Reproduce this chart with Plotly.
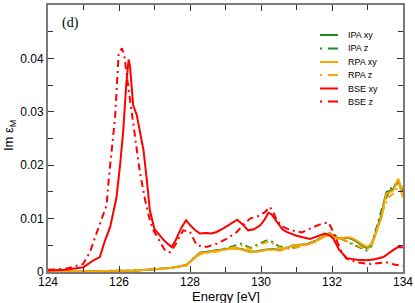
import plotly.graph_objects as go

# ---- data ----
bse_xy_e = [124.0, 124.5, 125.0, 125.28, 125.46, 125.6, 125.75, 125.93, 126.03, 126.12, 126.2, 126.27,
            126.31, 126.35, 126.4, 126.5, 126.59, 126.69, 126.78, 126.87, 127.0, 127.15, 127.3, 127.48,
            127.6, 127.75, 127.89, 128.0, 128.15, 128.28, 128.45, 128.6, 128.75, 128.95, 129.13, 129.33,
            129.5, 129.64, 129.8, 129.97, 130.1, 130.21, 130.3, 130.44, 130.6, 130.72, 131.0, 131.38,
            131.6, 131.8, 131.95, 132.04, 132.2, 132.41, 132.7, 132.98, 133.2, 133.45, 133.7, 133.87, 134.0]
bse_xy_v = [0.0003, 0.0004, 0.0009, 0.0022, 0.0028, 0.0058, 0.0084, 0.0140, 0.0200, 0.0265, 0.0347, 0.0398,
            0.0385, 0.0345, 0.0312, 0.0294, 0.0265, 0.0228, 0.0175, 0.0115, 0.0080, 0.0068, 0.0057, 0.0047,
            0.0060, 0.0082, 0.0097, 0.0088, 0.0078, 0.0072, 0.0073, 0.0072, 0.0075, 0.0082, 0.0090, 0.0098,
            0.0088, 0.0078, 0.0080, 0.0087, 0.0098, 0.0111, 0.0108, 0.0095, 0.0080, 0.0075, 0.0068, 0.0062,
            0.0067, 0.0072, 0.0068, 0.0062, 0.0042, 0.0026, 0.0023, 0.0022, 0.0024, 0.0028, 0.0040, 0.0047, 0.0046]

bse_z_e = [124.0, 124.5, 124.99, 125.18, 125.38, 125.52, 125.65, 125.72, 125.79, 125.89, 125.94, 125.99,
           126.08, 126.15, 126.26, 126.36, 126.45, 126.59, 126.75, 126.87, 126.97, 127.1, 127.2, 127.3,
           127.44, 127.58, 127.7, 127.81, 128.0, 128.19, 128.47, 128.75, 129.03, 129.32, 129.5, 129.69,
           129.9, 130.11, 130.25, 130.35, 130.44, 130.6, 130.86, 131.15, 131.47, 131.7, 131.9, 132.0,
           132.13, 132.25, 132.41, 132.7, 133.07, 133.54, 133.75, 133.92, 134.0]
bse_z_v = [0.0004, 0.0006, 0.0015, 0.0037, 0.0075, 0.0100, 0.0125, 0.0180, 0.0225, 0.0290, 0.0350, 0.0408,
           0.0419, 0.0405, 0.0347, 0.0297, 0.0247, 0.0186, 0.0130, 0.0097, 0.0078, 0.0062, 0.0050, 0.0040,
           0.0037, 0.0050, 0.0065, 0.0078, 0.0075, 0.0050, 0.0047, 0.0053, 0.0062, 0.0075, 0.0088, 0.0100,
           0.0104, 0.0112, 0.0122, 0.0112, 0.0097, 0.0085, 0.0078, 0.0074, 0.0084, 0.0090, 0.0093, 0.0080,
           0.0059, 0.0040, 0.0025, 0.0018, 0.0015, 0.0018, 0.0014, 0.0012, 0.0011]

xy_e = [124.0, 125.0, 126.0, 126.5, 127.0, 127.5, 127.9, 128.1, 128.28, 128.5, 128.75, 129.0, 129.22,
        129.45, 129.69, 129.9, 130.16, 130.35, 130.54, 130.75, 130.91, 131.1, 131.29, 131.5, 131.66,
        131.85, 131.94, 132.05, 132.13, 132.25, 132.41, 132.55, 132.7, 132.85, 132.98, 133.1, 133.2,
        133.3, 133.4, 133.47, 133.54, 133.65, 133.73, 133.8, 133.87, 133.93, 134.0]
rpa_xy_v = [0.0000, 0.0001, 0.0002, 0.0003, 0.0005, 0.0008, 0.0013, 0.0025, 0.0035, 0.0037, 0.0040, 0.0042,
            0.0044, 0.0042, 0.0037, 0.0038, 0.0041, 0.0042, 0.0040, 0.0045, 0.0050, 0.0050, 0.0051, 0.0056,
            0.0062, 0.0070, 0.0072, 0.0066, 0.0062, 0.0063, 0.0065, 0.0064, 0.0059, 0.0052, 0.0047, 0.0052,
            0.0065, 0.0085, 0.0103, 0.0130, 0.0147, 0.0150, 0.0153, 0.0165, 0.0175, 0.0155, 0.0140]
ipa_xy_v = [0.0000, 0.0001, 0.0002, 0.0003, 0.0005, 0.0008, 0.0013, 0.0026, 0.0036, 0.0038, 0.0041, 0.0043,
            0.0045, 0.0043, 0.0038, 0.0039, 0.0042, 0.0043, 0.0041, 0.0046, 0.0050, 0.0051, 0.0052, 0.0057,
            0.0063, 0.0071, 0.0073, 0.0067, 0.0063, 0.0063, 0.0064, 0.0062, 0.0057, 0.0050, 0.0045, 0.0051,
            0.0066, 0.0088, 0.0108, 0.0133, 0.0150, 0.0152, 0.0156, 0.0166, 0.0170, 0.0160, 0.0150]

z_e = [124.0, 125.0, 126.0, 126.5, 127.0, 127.5, 127.9, 128.1, 128.3, 128.6, 128.9, 129.2, 129.45, 129.7,
       129.95, 130.15, 130.3, 130.5, 130.82, 131.0, 131.3, 131.5, 131.66, 131.9, 132.1, 132.41, 132.7,
       132.98, 133.1, 133.17, 133.3, 133.45, 133.6, 133.68, 133.75, 133.87, 133.95, 134.0]
ipa_z_v = [0.0000, 0.0001, 0.0002, 0.0003, 0.0005, 0.0008, 0.0013, 0.0026, 0.0036, 0.0039, 0.0042, 0.0048,
           0.0053, 0.0045, 0.0052, 0.0059, 0.0057, 0.0048, 0.0044, 0.0047, 0.0052, 0.0057, 0.0063, 0.0070,
           0.0068, 0.0057, 0.0048, 0.0040, 0.0048, 0.0065, 0.0095, 0.0128, 0.0150, 0.0159, 0.0160, 0.0168,
           0.0165, 0.0160]
rpa_z_v = [0.0000, 0.0001, 0.0002, 0.0003, 0.0005, 0.0008, 0.0012, 0.0024, 0.0034, 0.0037, 0.0040, 0.0046,
           0.0050, 0.0043, 0.0050, 0.0056, 0.0055, 0.0046, 0.0043, 0.0046, 0.0051, 0.0056, 0.0062, 0.0069,
           0.0067, 0.0058, 0.0050, 0.0042, 0.0046, 0.0060, 0.0088, 0.0118, 0.0140, 0.0145, 0.0148, 0.0163,
           0.0160, 0.0155]

x_ticks = [124, 126, 128, 130, 132, 134]
y_ticks = [0, 0.01, 0.02, 0.03, 0.04, 0.05]
y_tick_labels = ["0", "0.01", "0.02", "0.03", "0.04", "0.05"]

GREEN = "#1e8c1e"
ORANGE = "#ffa500"
RED = "#ff0000"
DASHDOT = "7px,4px,2px,4px"

series = [
    ("IPA xy", xy_e, ipa_xy_v, GREEN, "solid"),
    ("IPA z", z_e, ipa_z_v, GREEN, DASHDOT),
    ("RPA xy", xy_e, rpa_xy_v, ORANGE, "solid"),
    ("RPA z", z_e, rpa_z_v, ORANGE, DASHDOT),
    ("BSE xy", bse_xy_e, bse_xy_v, RED, "solid"),
    ("BSE z", bse_z_e, bse_z_v, RED, DASHDOT),
]

W, H = 415, 303
ML, MR, MT, MB = 48, 12, 5, 31
PW, PH = W - ML - MR, H - MT - MB
FONT = "Liberation Sans, Arial, sans-serif"

def px_x(px):
    return (px - ML) / PW

def px_y(py):
    return (H - MB - py) / PH

fig = go.Figure()
for name, xs, ys, col, dash in series:
    fig.add_trace(go.Scatter(x=xs, y=ys, mode="lines", name=name, showlegend=False,
                             line=dict(color=col, width=2, dash=dash)))

# hand-made compact legend (paper coordinates)
leg_rows = [35, 48.5, 62, 75, 88.5, 101.5]
for (name, xs, ys, col, dash), ry in zip(series, leg_rows):
    if dash == "solid":
        fig.add_shape(type="line", xref="paper", yref="paper",
                      x0=px_x(320), x1=px_x(338), y0=px_y(ry), y1=px_y(ry),
                      line=dict(color=col, width=2))
    else:
        fig.add_shape(type="line", xref="paper", yref="paper",
                      x0=px_x(320), x1=px_x(322), y0=px_y(ry), y1=px_y(ry),
                      line=dict(color=col, width=2))
        fig.add_shape(type="line", xref="paper", yref="paper",
                      x0=px_x(328), x1=px_x(338), y0=px_y(ry), y1=px_y(ry),
                      line=dict(color=col, width=2))
    fig.add_annotation(xref="paper", yref="paper", x=px_x(346), y=px_y(ry),
                       xanchor="left", yanchor="middle", text=name, showarrow=False,
                       font=dict(family=FONT, size=9, color="black"))

axis_common = dict(showline=True, linecolor="#7a7a7a", linewidth=2, mirror="ticks",
                   ticks="inside", ticklen=6, tickwidth=1, tickcolor="#333333",
                   showgrid=False, zeroline=False, automargin=False,
                   tickfont=dict(family=FONT, size=12, color="black"))

fig.update_xaxes(range=[124, 134], tickvals=x_ticks, ticklabelstandoff=-2,
                 minor=dict(dtick=1, ticks="inside", ticklen=5, tickcolor="#333333", showgrid=False),
                 **axis_common)
fig.update_yaxes(range=[0, 0.05], tickvals=y_ticks, ticktext=y_tick_labels,
                 minor=dict(dtick=0.005, ticks="inside", ticklen=5, tickcolor="#333333", showgrid=False),
                 **axis_common)

# axis titles
fig.add_annotation(xref="paper", yref="paper", x=px_x(226), y=px_y(296),
                   xanchor="center", yanchor="middle", text="Energy [eV]", showarrow=False,
                   font=dict(family=FONT, size=13, color="black"))
fig.add_annotation(xref="paper", yref="paper", x=px_x(9), y=px_y(136),
                   xanchor="center", yanchor="middle", text="Im ε<sub>M</sub>", showarrow=False,
                   textangle=-90, font=dict(family=FONT, size=13, color="black"))

fig.add_annotation(x=124.62, y=0.0467, text="(d)", showarrow=False,
                   font=dict(family="Liberation Serif, Times New Roman, serif", size=14, color="black"))

fig.update_layout(
    width=W, height=H,
    margin=dict(l=ML, r=MR, t=MT, b=MB, autoexpand=False),
    plot_bgcolor="white", paper_bgcolor="white",
    showlegend=False,
)

fig.write_html("out.html", config={"displayModeBar": False},
               post_script="document.body.style.margin='0';document.body.style.padding='0';")
